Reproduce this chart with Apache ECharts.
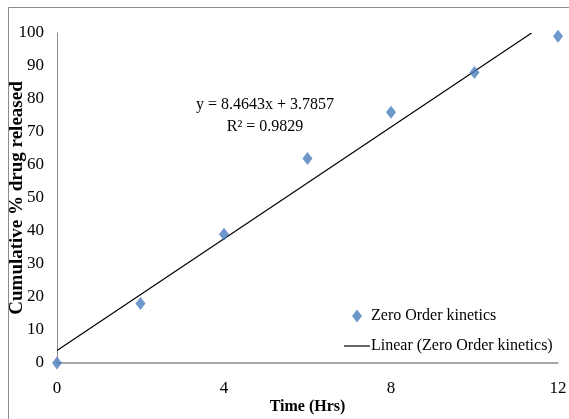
<!DOCTYPE html>
<html>
<head>
<meta charset="utf-8">
<script src="https://cdn.jsdelivr.net/npm/echarts@6/dist/echarts.min.js"></script>
<style>
  html, body { margin: 0; padding: 0; background: #fff; }
  #chart { width: 569px; height: 419px; }
</style>
</head>
<body>
<div id="chart"></div>
<script>
// Release study: time (hours) and cumulative percentage of drug released
var timeHrs = [0, 2, 4, 6, 8, 10, 12];
var releasedPct = [0, 18, 39, 62, 76, 88, 99];
var xTicks = [0, 4, 8, 12];
var seriesName = 'Zero Order kinetics';
var trendName = 'Linear (Zero Order kinetics)';

// Least-squares fit of the release data
function linearFit(xs, ys) {
  var n = xs.length, mx = 0, my = 0;
  for (var i = 0; i < n; i++) { mx += xs[i]; my += ys[i]; }
  mx /= n; my /= n;
  var sxy = 0, sxx = 0, syy = 0;
  for (var j = 0; j < n; j++) {
    sxy += (xs[j] - mx) * (ys[j] - my);
    sxx += (xs[j] - mx) * (xs[j] - mx);
    syy += (ys[j] - my) * (ys[j] - my);
  }
  var slope = sxy / sxx;
  return { slope: slope, intercept: my - slope * mx, r2: (sxy * sxy) / (sxx * syy) };
}

var fit = linearFit(timeHrs, releasedPct);
var yMax = 100;
// Trend line runs from x = 0 until it leaves the top of the plot
var xEnd = Math.min(12, (yMax - fit.intercept) / fit.slope);
var trendData = [[0, fit.intercept], [xEnd, fit.intercept + fit.slope * xEnd]];

var diamondPath = 'path://M5,0 L10,6.5 L5,13 L0,6.5 Z';
var dashPath = 'path://M0,0 L26,0 L26,1.2 L0,1.2 Z';
var serif = 'Liberation Serif, Times New Roman, serif';

var chart = echarts.init(document.getElementById('chart'));
chart.setOption({
  animation: false,
  backgroundColor: '#ffffff',
  grid: { left: 57, right: 11, top: 33, bottom: 56, containLabel: false, outerBoundsMode: 'none' },
  xAxis: {
    type: 'value', min: 0, max: 12, interval: 4,
    name: 'Time (Hrs)', nameLocation: 'middle', nameGap: 36, nameMoveOverlap: false,
    nameTextStyle: { fontFamily: serif, fontWeight: 'bold', fontSize: 16, color: '#000' },
    axisLine: { show: true, lineStyle: { color: '#8c8c8c', width: 1.5 } },
    axisTick: { show: false },
    splitLine: { show: false },
    axisLabel: {
      margin: 17, fontFamily: serif, fontSize: 17, color: '#000',
      customValues: xTicks
    }
  },
  yAxis: {
    type: 'value', min: 0, max: yMax, interval: 10,
    name: 'Cumulative % drug released', nameLocation: 'middle', nameGap: 30, nameMoveOverlap: false,
    nameTextStyle: { fontFamily: serif, fontWeight: 'bold', fontSize: 19, color: '#000' },
    axisLine: { show: true, lineStyle: { color: '#8c8c8c', width: 1 } },
    axisTick: { show: false },
    splitLine: { show: false },
    axisLabel: { margin: 13, fontFamily: serif, fontSize: 17, color: '#000' }
  },
  legend: {
    orient: 'vertical', left: 339, top: 303, itemGap: 14,
    itemWidth: 26, itemHeight: 13, symbolKeepAspect: true,
    textStyle: { fontFamily: serif, fontSize: 16, color: '#000', padding: [0, 0, 0, -4] },
    data: [
      { name: seriesName, icon: diamondPath },
      { name: trendName, icon: dashPath, itemStyle: { color: '#000' } }
    ]
  },
  graphic: [
    { type: 'line', shape: { x1: 8.5, y1: 7.5, x2: 569, y2: 7.5 }, style: { stroke: '#8c8c8c', lineWidth: 1 }, silent: true },
    { type: 'line', shape: { x1: 8.5, y1: 7.5, x2: 8.5, y2: 419 }, style: { stroke: '#8c8c8c', lineWidth: 1 }, silent: true },
    {
      type: 'text', silent: true,
      style: {
        x: 265, y: 94,
        text: 'y = ' + fit.slope.toFixed(4) + 'x + ' + fit.intercept.toFixed(4) + '\nR\u00b2 = ' + fit.r2.toFixed(4),
        font: '16px ' + serif, fill: '#000', align: 'center', verticalAlign: 'top', lineHeight: 22
      }
    }
  ],
  series: [
    {
      name: trendName, type: 'line', data: trendData,
      showSymbol: false, symbol: 'none',
      lineStyle: { color: '#000', width: 1.2 }, itemStyle: { color: '#000' },
      z: 2
    },
    {
      name: seriesName, type: 'scatter', data: timeHrs.map(function (t, i) { return [t, releasedPct[i]]; }),
      symbol: diamondPath, symbolSize: [10, 13],
      itemStyle: { color: '#4a7ebb' },
      clip: false, z: 3
    }
  ]
});
</script>
</body>
</html>
